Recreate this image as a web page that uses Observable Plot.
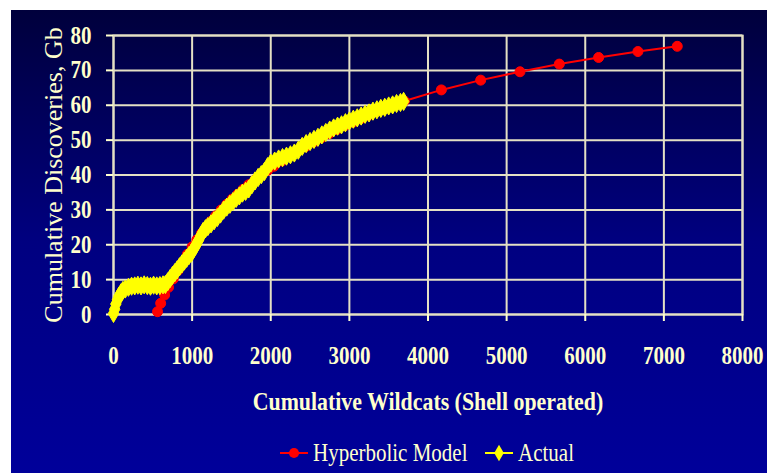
<!DOCTYPE html>
<html><head><meta charset="utf-8">
<script src="https://cdn.jsdelivr.net/npm/d3@7"></script>
<script src="https://cdn.jsdelivr.net/npm/@observablehq/plot@0.6"></script>
<style>
html,body{margin:0;padding:0;background:#fff;}
#wrap{position:relative;width:767px;height:473px;overflow:hidden;}
#bg{position:absolute;left:11px;top:10px;right:0;bottom:0;background:linear-gradient(#00003C,#000080 50%,#00009A);}
#chart,#legend{position:absolute;left:0;top:0;}
</style></head><body>
<div id="wrap"><div id="bg"></div><div id="chart"></div><div id="legend"></div></div>
<script>
// ---- data ----
const seriesNames = ["Hyperbolic Model", "Actual"];
const xTitle = "Cumulative Wildcats (Shell operated)";
const yTitle = "Cumulative Discoveries, Gb";
const xTicks = [0, 1000, 2000, 3000, 4000, 5000, 6000, 7000, 8000];
const yTicks = [0, 10, 20, 30, 40, 50, 60, 70, 80];

const modelX = [560, 600, 650, 700, 760, 820, 880, 940, 1000, 1060, 1120, 1180, 1240, 1300, 1370, 1440, 1510, 1580, 1650, 1720, 1800, 1880, 1960, 2040, 2140, 2240, 2340, 2440, 2540, 2640, 2740, 2840, 2940, 3040, 3140, 3240, 3340, 3440, 3540, 3640, 3700, 4170, 4670, 5170, 5670, 6170, 6670, 7170];
const modelY = [0.8, 3.2, 5.6, 7.8, 10.2, 12.6, 15.0, 17.3, 19.4, 21.4, 23.3, 25.0, 26.7, 28.3, 30.0, 31.6, 33.1, 34.5, 35.9, 37.2, 38.6, 40.0, 41.3, 42.5, 44.0, 45.4, 46.8, 48.1, 49.4, 50.6, 51.8, 53.0, 54.1, 55.1, 56.1, 57.1, 58.1, 59.0, 59.9, 60.8, 61.2, 64.4, 67.2, 69.6, 71.8, 73.7, 75.4, 76.9];

const actualX = [0, 15, 30, 50, 70, 95, 120, 150, 190, 230, 270, 310, 350, 390, 430, 470, 510, 550, 590, 630, 660, 690, 720, 750, 780, 810, 840, 870, 900, 930, 960, 990, 1020, 1050, 1080, 1110, 1140, 1170, 1200, 1240, 1280, 1320, 1360, 1400, 1440, 1480, 1520, 1560, 1600, 1640, 1680, 1720, 1760, 1800, 1840, 1880, 1920, 1960, 2000, 2050, 2100, 2150, 2200, 2250, 2300, 2350, 2400, 2450, 2500, 2550, 2600, 2650, 2700, 2750, 2800, 2850, 2900, 2950, 3000, 3050, 3100, 3150, 3200, 3250, 3300, 3350, 3400, 3450, 3500, 3550, 3600, 3650, 3690];
const actualY = [0.3, 1.5, 3.0, 4.2, 5.3, 6.2, 6.9, 7.3, 7.8, 8.1, 8.2, 8.4, 8.2, 8.5, 8.3, 8.1, 8.4, 8.2, 8.3, 8.5, 8.6, 9.4, 10.3, 11.2, 12.0, 12.8, 13.7, 14.5, 15.3, 16.1, 16.9, 17.6, 18.8, 19.9, 21.2, 22.6, 23.8, 24.6, 25.2, 26.0, 26.9, 27.8, 28.8, 29.9, 30.8, 31.6, 32.4, 33.3, 34.0, 34.8, 35.3, 36.0, 37.2, 38.3, 39.3, 40.1, 41.0, 42.4, 43.4, 44.0, 44.6, 45.0, 45.4, 45.8, 46.3, 47.1, 48.2, 49.0, 49.6, 50.2, 50.8, 51.5, 52.2, 52.9, 53.5, 54.0, 54.4, 55.0, 55.5, 56.0, 56.4, 56.9, 57.4, 57.8, 58.3, 58.7, 59.1, 59.4, 59.8, 60.1, 60.5, 60.8, 61.1];

const model = modelX.map((x, i) => ({x, y: modelY[i]}));
const actual = actualX.map((x, i) => ({x, y: actualY[i]}));

const cream = "#FFFFCC", gridC = "#E4E0C4", red = "#FF0000", yellow = "#FFFF00";
const font = "'Liberation Serif', 'Times New Roman', serif";

const chart = Plot.plot({
  width: 767, height: 473,
  marginLeft: 113, marginRight: 25, marginTop: 35, marginBottom: 159,
  style: {background: "transparent", color: cream, fontFamily: font, overflow: "visible"},
  x: {domain: [0, 8000], ticks: xTicks},
  y: {domain: [0, 80], ticks: yTicks},
  marks: [
    Plot.gridX(xTicks, {stroke: gridC, strokeOpacity: 1, strokeWidth: 2}),
    Plot.gridY(yTicks, {stroke: gridC, strokeOpacity: 1, strokeWidth: 2}),
    Plot.frame({stroke: gridC, strokeWidth: 2}),
    Plot.axisX(xTicks, {tickSize: 7, tickPadding: 25, fontSize: 25, fontWeight: "bold", label: null, strokeWidth: 2, tickFormat: d => String(d)}),
    Plot.axisY(yTicks, {tickSize: 7, tickPadding: 15, fontSize: 25, fontWeight: "bold", label: null, strokeWidth: 2, tickFormat: d => String(d)}),
    Plot.line(model, {x: "x", y: "y", stroke: red, strokeWidth: 2}),
    Plot.dot(model, {x: "x", y: "y", r: 5, fill: red, stroke: red, strokeWidth: 1}),
    Plot.line(actual, {x: "x", y: "y", stroke: yellow, strokeWidth: 2}),
    Plot.dot(actual, {x: "x", y: "y", r: 5.5, symbol: "diamond", fill: yellow, stroke: yellow, strokeWidth: 1}),
    Plot.text([yTitle], {text: d => d, frameAnchor: "left", textAnchor: "middle", dx: -60, rotate: -90, fontSize: 26, fill: cream}),
    Plot.text([xTitle], {text: d => d, frameAnchor: "bottom", dy: 87, lineAnchor: "middle", fontSize: 26, fontWeight: "bold", fill: cream})
  ]
});
document.getElementById("chart").appendChild(chart);

// legend
const lg = d3.select("#legend").append("svg").attr("width", 767).attr("height", 473)
  .style("font-family", font);
const items = [
  {name: seriesNames[0], color: red, sym: d3.symbolCircle, x0: 280},
  {name: seriesNames[1], color: yellow, sym: d3.symbolDiamond, x0: 485}
];
items.forEach(it => {
  lg.append("line").attr("x1", it.x0).attr("x2", it.x0 + 28).attr("y1", 453).attr("y2", 453)
    .attr("stroke", it.color).attr("stroke-width", 2);
  lg.append("path").attr("d", d3.symbol(it.sym, 80)()).attr("transform", `translate(${it.x0 + 14},453)`)
    .attr("fill", it.color);
  lg.append("text").attr("x", it.x0 + 33).attr("y", 461).attr("font-size", 25).attr("fill", cream).text(it.name);
});

// condense horizontal texts
function condense(root) {
  root.querySelectorAll("text").forEach(t => {
    const tr = t.getAttribute("transform") || "";
    if (tr.includes("rotate")) return;
    const L = t.getComputedTextLength();
    if (L > 0) { t.setAttribute("textLength", (L * 0.84).toFixed(1)); t.setAttribute("lengthAdjust", "spacingAndGlyphs"); }
  });
}
condense(chart);
condense(lg.node());
</script>
</body></html>
